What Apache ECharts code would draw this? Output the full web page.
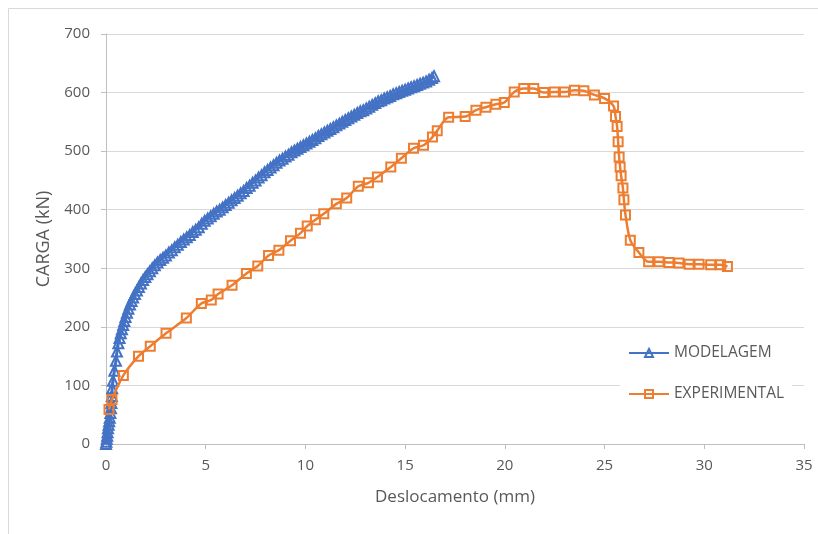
<!DOCTYPE html>
<html>
<head>
<meta charset="utf-8">
<script src="https://cdn.jsdelivr.net/npm/echarts@6/dist/echarts.min.js"></script>
<style>html,body{margin:0;padding:0;background:#fff;}#c{width:818px;height:534px;}</style>
</head>
<body>
<div id="c"></div>
<script>
const seriesNames = ['MODELAGEM', 'EXPERIMENTAL'];
const xTicks = [0, 5, 10, 15, 20, 25, 30, 35];
const yTicks = [0, 100, 200, 300, 400, 500, 600, 700];

const modelagem = [
[0,0],[0.02,4],[0.04,9],[0.06,14],[0.08,20],[0.1,27],[0.13,33],[0.16,39],[0.19,45],[0.22,53],[0.25,61],[0.27,70],[0.29,82],[0.31,95],[0.35,108],[0.42,125],[0.5,142],[0.55,158],[0.62,172],[0.68,181],[0.74,189],[0.8,196],[0.86,203],[0.92,210],[0.98,217],[1.05,224],[1.12,231],[1.2,238],[1.28,244],[1.36,250],[1.45,256],[1.55,262],[1.65,268],[1.75,274],[1.86,280],[1.97,285],[2.08,290],[2.2,295],[2.32,300],[2.45,305],[2.58,310],[2.72,314],[2.86,318],[3.0,322],[3.15,327],[3.3,331],[3.45,336],[3.6,340],[3.75,345],[3.9,349],[4.05,353],[4.2,357],[4.35,362],[4.5,366],[4.65,370],[4.8,376],[4.95,381],[5.1,385],[5.25,389],[5.4,393],[5.55,397],[5.7,400],[5.85,404],[6.0,408],[6.15,412],[6.3,416],[6.45,420],[6.6,424],[6.75,428],[6.9,432],[7.05,437],[7.2,441],[7.35,446],[7.5,450],[7.65,455],[7.8,459],[7.95,464],[8.1,468],[8.25,472],[8.4,476],[8.55,480],[8.7,484],[8.85,487],[9.0,491],[9.15,494],[9.3,498],[9.45,501],[9.6,504],[9.75,507],[9.9,510],[10.05,513],[10.2,516],[10.35,519],[10.5,522],[10.65,526],[10.8,529],[10.95,532],[11.1,535],[11.25,538],[11.4,541],[11.55,544],[11.7,547],[11.85,550],[12.0,553],[12.15,556],[12.3,559],[12.45,562],[12.6,565],[12.75,568],[12.9,570],[13.05,573],[13.2,576],[13.35,579],[13.5,582],[13.65,585],[13.8,587],[13.95,590],[14.1,592],[14.25,594],[14.4,597],[14.55,599],[14.7,601],[14.85,603],[15.0,605],[15.15,607],[15.3,609],[15.45,611],[15.6,613],[15.75,615],[15.9,617],[16.05,619],[16.2,622],[16.35,625],[16.45,628]
];

const experimental = [
[0.15,59],[0.3,76],[0.87,117],[1.63,150],[2.22,167],[3.01,189],[4.03,215],[4.78,240],[5.28,246],[5.62,256],[6.32,271],[7.04,291],[7.61,304],[8.15,322],[8.67,331],[9.25,347],[9.75,360],[10.09,372],[10.5,383],[10.92,393],[11.55,410],[12.07,420],[12.65,440],[13.16,446],[13.61,456],[14.28,473],[14.81,488],[15.42,505],[15.92,510],[16.37,524],[16.61,535],[17.18,558],[18.01,559],[18.55,570],[19.05,575],[19.55,580],[19.97,583],[20.47,601],[20.95,607],[21.45,607],[21.95,600],[22.48,601],[22.99,601],[23.49,604],[23.96,603],[24.49,596],[25.0,590],[25.45,577],[25.55,559],[25.63,542],[25.68,516],[25.73,490],[25.78,473],[25.83,458],[25.92,437],[25.97,417],[26.05,391],[26.29,348],[26.72,327],[27.21,311],[27.73,311],[28.23,310],[28.73,309],[29.24,307],[29.74,307],[30.32,306],[30.82,306],[31.16,303]
];

const chart = echarts.init(document.getElementById('c'), null, {renderer: 'canvas'});
const txt = '#595959';
const font = 'Open Sans';
chart.setOption({
  backgroundColor: '#fff',
  animation: false,
  textStyle: {fontFamily: font},
  graphic: [{
    type: 'rect', silent: true, z: -10,
    shape: {x: 8.5, y: 8.5, width: 900, height: 700},
    style: {fill: 'none', stroke: '#d9d9d9', lineWidth: 1}
  }],
  grid: {left: 106, right: 14, top: 34, bottom: 90, containLabel: false},
  legend: {
    orient: 'vertical', left: 620, top: 339,
    backgroundColor: '#fff', padding: [6, 8, 6, 8],
    itemWidth: 40, itemHeight: 10, itemGap: 25,
    textStyle: {color: txt, fontSize: 15.5, fontFamily: font},
    data: seriesNames
  },
  xAxis: {
    type: 'value', min: xTicks[0], max: xTicks[xTicks.length - 1], interval: 5,
    name: 'Deslocamento (mm)', nameLocation: 'middle', nameGap: 45,
    nameTextStyle: {color: txt, fontSize: 17, fontFamily: font},
    axisLine: {show: true, lineStyle: {color: '#bfbfbf', width: 1}},
    axisTick: {show: true, length: 5, lineStyle: {color: '#bfbfbf'}},
    axisLabel: {color: txt, fontSize: 15, margin: 14, fontFamily: font},
    splitLine: {show: false}
  },
  yAxis: {
    type: 'value', min: yTicks[0], max: yTicks[yTicks.length - 1], interval: 100,
    name: 'CARGA (kN)', nameLocation: 'middle', nameGap: 47,
    nameTextStyle: {color: txt, fontSize: 18, fontFamily: font},
    axisLine: {show: true, lineStyle: {color: '#bfbfbf', width: 1}},
    axisTick: {show: true, length: 5, lineStyle: {color: '#bfbfbf'}},
    axisLabel: {color: txt, fontSize: 15, margin: 16, fontFamily: font},
    splitLine: {show: true, lineStyle: {color: '#d9d9d9', width: 1}}
  },
  series: [
    {
      name: seriesNames[0], type: 'line', data: modelagem,
      symbol: 'triangle', symbolSize: 10, showAllSymbol: true,
      lineStyle: {color: '#4472C4', width: 3},
      itemStyle: {color: 'rgba(255,255,255,0)', borderColor: '#4472C4', borderWidth: 2},
      z: 2
    },
    {
      name: seriesNames[1], type: 'line', data: experimental, smooth: 0.3,
      symbol: 'rect', symbolSize: 9, showAllSymbol: true,
      lineStyle: {color: '#ED7D31', width: 2.5},
      itemStyle: {color: 'rgba(255,255,255,0)', borderColor: '#ED7D31', borderWidth: 2},
      z: 3
    }
  ]
});
</script>
</body>
</html>
